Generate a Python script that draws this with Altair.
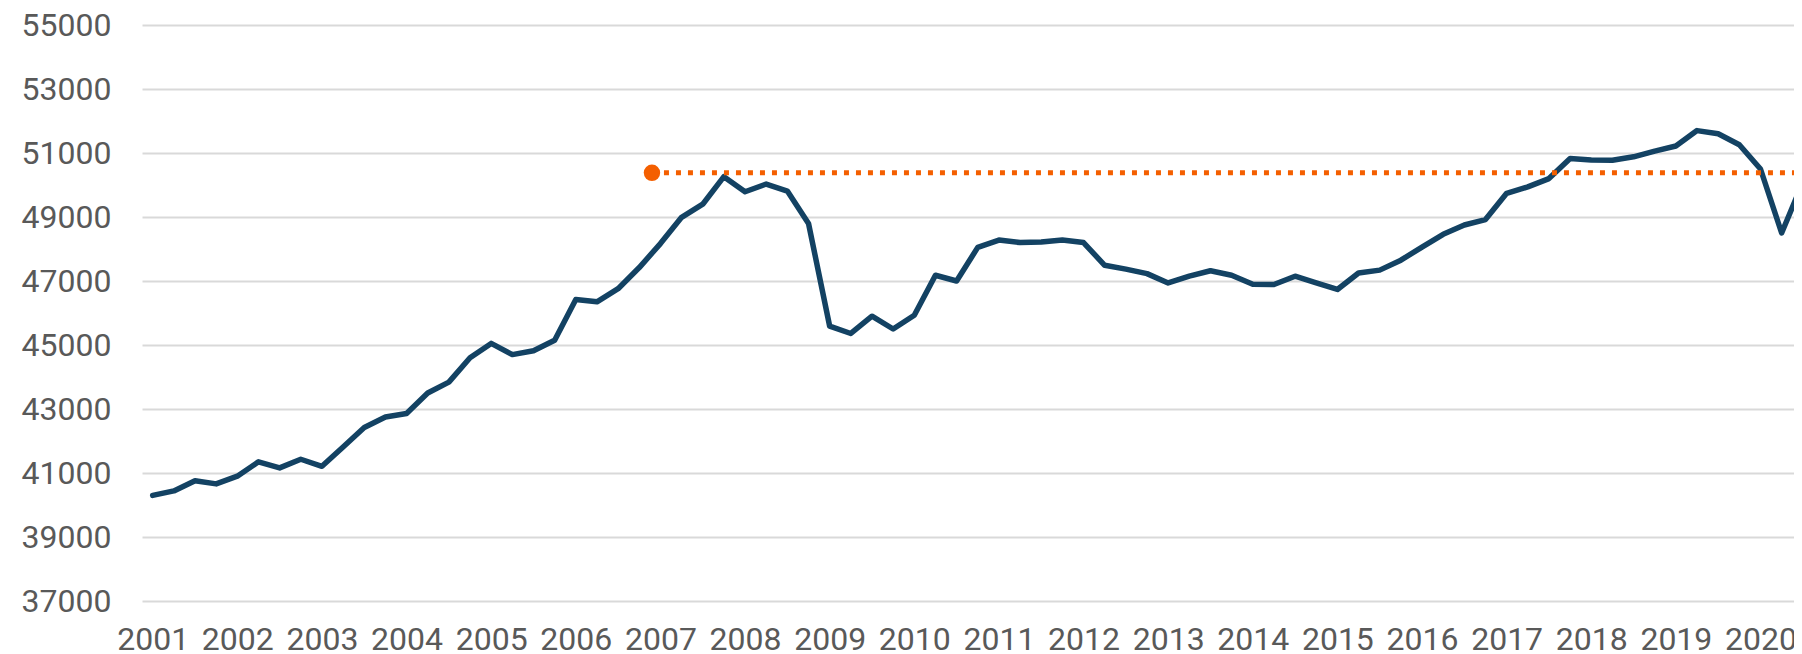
import altair as alt
import pandas as pd

# Quarterly series, 2001 Q1 .. 2020 Q3
start_year = 2001
values = [
    40300, 40440, 40760, 40660,   # 2001
    40900, 41350, 41160, 41430,   # 2002
    41210, 41815, 42420, 42750,   # 2003
    42860, 43500, 43840, 44600,   # 2004
    45050, 44700, 44820, 45150,   # 2005
    46420, 46350, 46760, 47420,   # 2006
    48170, 48990, 49400, 50260,   # 2007
    49790, 50030, 49810, 48800,   # 2008
    45590, 45360, 45900, 45500,   # 2009
    45930, 47180, 47000, 48050,   # 2010
    48280, 48200, 48220, 48280,   # 2011
    48200, 47490, 47370, 47230,   # 2012
    46940, 47150, 47320, 47180,   # 2013
    46900, 46890, 47150, 46940,   # 2014
    46735, 47250, 47340, 47650,   # 2015
    48060, 48460, 48750, 48920,   # 2016
    49740, 49940, 50200, 50830,   # 2017
    50780, 50775, 50880, 51060,   # 2018
    51220, 51700, 51600, 51260,   # 2019
    50500, 48500, 50080,          # 2020
]
year_ticks = list(range(2001, 2021))
y_ticks = list(range(37000, 55001, 2000))

# Reference level (orange dotted line with a starting dot)
ref_level = [50380]
ref_start = [2006.9]
ref_end = [2020.75]

x_domain = [2000.8736, 2020.396]
y_domain = [37000, 55000]

LINE_COLOR = "#134263"
REF_COLOR = "#F45F00"
TEXT_COLOR = "#595959"
GRID_COLOR = "#D9D9D9"
FONT = "Roboto"

df = pd.DataFrame({
    "t": [start_year + i / 4 for i in range(len(values))],
    "v": values,
})
ref_df = pd.DataFrame({"x": ref_start, "x2": ref_end, "y": ref_level})

x_scale = alt.Scale(domain=x_domain, nice=False, zero=False)
y_scale = alt.Scale(domain=y_domain, nice=False, zero=False)

x_axis = alt.Axis(
    values=year_ticks, format="d", title=None, grid=False, domain=False,
    ticks=False, labelFontSize=32, labelColor=TEXT_COLOR, labelFont=FONT,
    labelPadding=23, labelFlush=False, labelOverlap=False,
)
y_axis = alt.Axis(
    values=y_ticks, format="d", title=None, grid=True, gridColor=GRID_COLOR,
    gridWidth=2, domain=False, ticks=False, labelFontSize=32,
    labelColor=TEXT_COLOR, labelFont=FONT, labelPadding=31,
)

line = alt.Chart(df).mark_line(
    color=LINE_COLOR, strokeWidth=5.5, strokeCap="round", strokeJoin="round", clip=True
).encode(
    x=alt.X("t:Q", scale=x_scale, axis=x_axis),
    y=alt.Y("v:Q", scale=y_scale, axis=y_axis),
)

rule = alt.Chart(ref_df).mark_rule(
    color=REF_COLOR, strokeWidth=5, strokeDash=[5, 7], clip=True
).encode(
    x=alt.X("x:Q", scale=x_scale),
    x2="x2:Q",
    y=alt.Y("y:Q", scale=y_scale),
)

dot = alt.Chart(ref_df).mark_point(
    filled=True, color=REF_COLOR, size=270, opacity=1, shape="circle"
).encode(
    x=alt.X("x:Q", scale=x_scale),
    y=alt.Y("y:Q", scale=y_scale),
)

chart = alt.layer(line, rule, dot).properties(
    width=1652, height=576,
    autosize=alt.AutoSizeParams(type="none"),
    padding={"left": 134, "top": 17, "right": 0, "bottom": 52},
    background="white",
).configure_view(stroke=None)

chart.save("out.html", embed_options={"renderer": "svg", "actions": False})
